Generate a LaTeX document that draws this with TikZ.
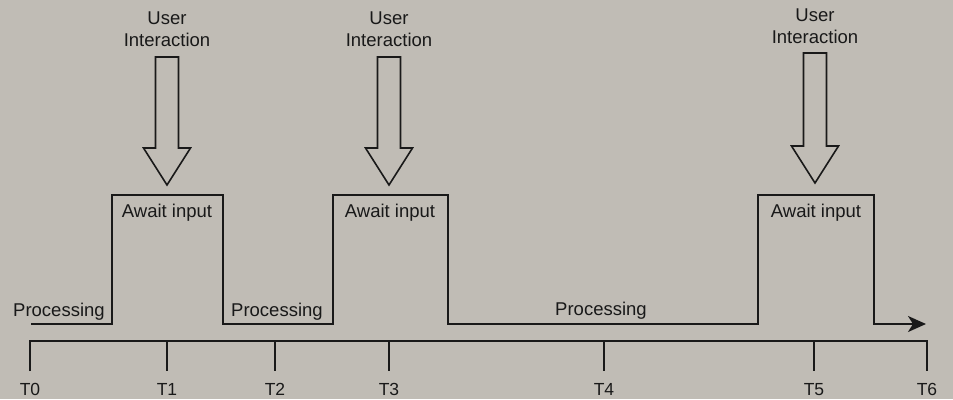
\documentclass[tikz,border=0pt]{standalone}
\usepackage{fontspec}
\setmainfont{Liberation Sans}
\usetikzlibrary{arrows.meta}
\definecolor{paper}{RGB}{192,188,181}
\definecolor{ink}{RGB}{25,25,25}
\begin{document}
\begin{tikzpicture}[x=1pt,y=-1pt,
  lbl/.style={font=\fontsize{18.5}{22}\selectfont, text=ink, inner sep=0pt, anchor=base},
  tlbl/.style={font=\fontsize{17.5}{20}\selectfont, text=ink, inner sep=0pt, anchor=base},
  wave/.style={draw=ink, line width=2pt, line join=miter},
  axisline/.style={draw=ink, line width=2.4pt},
  blockarrow/.style={draw=ink, line width=1.6pt, line join=miter}]
  % page
  \fill[paper] (0,0) rectangle (953,399);
  \useasboundingbox (0,0) rectangle (953,399);

  % time axis with its ticks
  \foreach \n/\x in {0/30,1/167,2/275,3/389,4/604,5/814,6/927}{
    \coordinate (a\n) at (\x,341);
    \coordinate (b\n) at (\x,371);
    \node[tlbl] (T\n) at (\x,395) {T\n};
  }
  \draw[axisline] (b0) -- (a0) -- (a6) -- (b6);
  \foreach \n in {1,...,5}{ \draw[axisline] (a\n) -- (b\n); }

  % state waveform
  \coordinate (w0) at (31,324);
  \coordinate (w1) at (112,324);  \coordinate (w2) at (112,195);
  \coordinate (w3) at (223,195);  \coordinate (w4) at (223,324);
  \coordinate (w5) at (333,324);  \coordinate (w6) at (333,195);
  \coordinate (w7) at (448,195);  \coordinate (w8) at (448,324);
  \coordinate (w9) at (758,324);  \coordinate (w10) at (758,195);
  \coordinate (w11) at (874,195); \coordinate (w12) at (874,324);
  \coordinate (w13) at (926,324);
  \draw[wave, -{Stealth[length=18pt,width=16pt,inset=5pt]}]
    (w0) -- (w1) -- (w2) -- (w3) -- (w4) -- (w5) -- (w6) -- (w7) -- (w8)
    -- (w9) -- (w10) -- (w11) -- (w12) -- (w13);

  % state labels
  \node[lbl, anchor=base west] (p1) at (13,316) {Processing};
  \node[lbl, anchor=base west] (p2) at (231,316) {Processing};
  \node[lbl] (p3) at (601,315) {Processing};
  \node[lbl] (q1) at (167,217) {Await input};
  \node[lbl] (q2) at (390,217) {Await input};
  \node[lbl] (q3) at (816,217) {Await input};

  % user interaction arrows
  \foreach \k/\xc/\top/\tip/\ya/\yb in {1/167/57/185/24/46, 2/389/57/185/24/46, 3/815/53/183/21/43}{
    \node[lbl] (u\k) at (\xc,\ya) {User};
    \node[lbl] (i\k) at (\xc,\yb) {Interaction};
    \draw[blockarrow] (\xc-11.5,\top) -- (\xc+11.5,\top) -- (\xc+11.5,\tip-37)
      -- (\xc+23.5,\tip-37) -- (\xc,\tip) -- (\xc-23.5,\tip-37)
      -- (\xc-11.5,\tip-37) -- cycle;
  }
\end{tikzpicture}
\end{document}
